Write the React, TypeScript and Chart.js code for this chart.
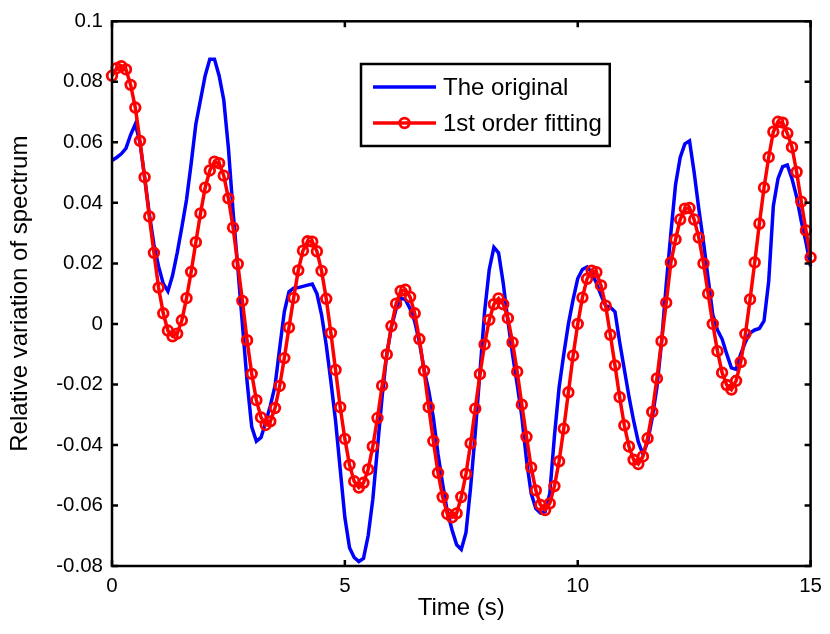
import React, { useEffect, useRef } from "react";
import { Chart, registerables } from "chart.js";

Chart.register(...registerables);

// ---- data ----
const TIME_START = 0;
const TIME_STEP = 0.1;

const ORIGINAL = [
  0.0540, 0.0550, 0.0562, 0.0580, 0.0625, 0.0660, 0.0600, 0.0485, 0.0365, 0.0262,
  0.0190, 0.0133, 0.0108, 0.0160, 0.0235, 0.0320, 0.0410, 0.0530, 0.0660, 0.0740,
  0.0820, 0.0875, 0.0875, 0.0820, 0.0740, 0.0580, 0.0370, 0.0188, 0.0000, -0.0190,
  -0.0340, -0.0388, -0.0375, -0.0325, -0.0270, -0.0205, -0.0080, 0.0040, 0.0106, 0.0118,
  0.0120, 0.0124, 0.0128, 0.0132, 0.0100, 0.0030, -0.0070, -0.0190, -0.0320, -0.0480,
  -0.0640, -0.0740, -0.0772, -0.0785, -0.0775, -0.0700, -0.0580, -0.0410, -0.0240, -0.0100,
  -0.0010, 0.0050, 0.0085, 0.0080, 0.0050, 0.0008, -0.0060, -0.0150, -0.0220, -0.0310,
  -0.0430, -0.0530, -0.0620, -0.0680, -0.0730, -0.0745, -0.0690, -0.0540, -0.0360, -0.0160,
  0.0040, 0.0180, 0.0253, 0.0235, 0.0135, 0.0010, -0.0100, -0.0200, -0.0306, -0.0450,
  -0.0560, -0.0610, -0.0625, -0.0620, -0.0560, -0.0370, -0.0210, -0.0100, 0.0000, 0.0080,
  0.0150, 0.0180, 0.0188, 0.0170, 0.0135, 0.0095, 0.0060, 0.0055, 0.0040, -0.0060,
  -0.0150, -0.0240, -0.0320, -0.0390, -0.0430, -0.0390, -0.0310, -0.0210, -0.0060, 0.0130,
  0.0300, 0.0460, 0.0550, 0.0595, 0.0605, 0.0500, 0.0380, 0.0270, 0.0150, 0.0030,
  -0.0020, -0.0050, -0.0100, -0.0145, -0.0150, -0.0100, -0.0060, -0.0030, -0.0020, -0.0015,
  0.0010, 0.0140, 0.0390, 0.0480, 0.0520, 0.0525, 0.0480, 0.0420, 0.0340, 0.0270,
  0.0190,
];

const FIT = [
  0.0820, 0.0845, 0.0852, 0.0841, 0.0790, 0.0715, 0.0605, 0.0485, 0.0355, 0.0235,
  0.0120, 0.0035, -0.0022, -0.0041, -0.0032, 0.0012, 0.0085, 0.0172, 0.0270, 0.0365,
  0.0450, 0.0507, 0.0536, 0.0531, 0.0490, 0.0415, 0.0318, 0.0198, 0.0076, -0.0054,
  -0.0165, -0.0252, -0.0309, -0.0334, -0.0322, -0.0278, -0.0205, -0.0113, -0.0012, 0.0086,
  0.0177, 0.0242, 0.0273, 0.0272, 0.0240, 0.0175, 0.0083, -0.0030, -0.0152, -0.0275,
  -0.0380, -0.0466, -0.0520, -0.0541, -0.0525, -0.0481, -0.0405, -0.0311, -0.0204, -0.0101,
  -0.0007, 0.0067, 0.0109, 0.0113, 0.0089, 0.0035, -0.0050, -0.0155, -0.0275, -0.0387,
  -0.0492, -0.0572, -0.0628, -0.0639, -0.0626, -0.0572, -0.0496, -0.0395, -0.0280, -0.0166,
  -0.0068, 0.0013, 0.0065, 0.0084, 0.0065, 0.0019, -0.0061, -0.0158, -0.0267, -0.0373,
  -0.0474, -0.0550, -0.0598, -0.0615, -0.0593, -0.0536, -0.0454, -0.0346, -0.0226, -0.0105,
  0.0000, 0.0087, 0.0149, 0.0176, 0.0171, 0.0127, 0.0060, -0.0036, -0.0137, -0.0242,
  -0.0335, -0.0405, -0.0449, -0.0463, -0.0438, -0.0378, -0.0291, -0.0180, -0.0057, 0.0070,
  0.0203, 0.0279, 0.0345, 0.0381, 0.0383, 0.0345, 0.0285, 0.0200, 0.0100, 0.0000,
  -0.0090, -0.0161, -0.0202, -0.0217, -0.0188, -0.0126, -0.0033, 0.0081, 0.0203, 0.0331,
  0.0450, 0.0551, 0.0635, 0.0668, 0.0665, 0.0630, 0.0584, 0.0502, 0.0404, 0.0309,
  0.0220,
];

const X_TICKS = [0, 5, 10, 15];
const Y_TICKS = [-0.08, -0.06, -0.04, -0.02, 0, 0.02, 0.04, 0.06, 0.08, 0.1];
const SERIES_NAMES = ["The original", "1st order fitting"];
const X_LABEL = "Time (s)";
const Y_LABEL = "Relative variation of spectrum";

// ---- styles ----
const FONT = "'Liberation Sans', Arial, Helvetica, sans-serif";
const BLUE = "#0000ff";
const RED = "#ff0000";

const TIME = ORIGINAL.map((_, i) => +(TIME_START + i * TIME_STEP).toFixed(3));

const framePlugin = {
  id: "matlabFrame",
  afterDraw(chart: any) {
    const { ctx, chartArea: a, scales } = chart;
    ctx.save();
    ctx.strokeStyle = "#000";
    ctx.lineWidth = 2.5;
    ctx.strokeRect(a.left, a.top, a.right - a.left, a.bottom - a.top);
    const L = 6;
    ctx.beginPath();
    for (const v of Y_TICKS) {
      const y = scales.y.getPixelForValue(v);
      ctx.moveTo(a.left, y);
      ctx.lineTo(a.left + L, y);
      ctx.moveTo(a.right, y);
      ctx.lineTo(a.right - L, y);
    }
    for (const v of X_TICKS) {
      const x = scales.x.getPixelForValue(v);
      ctx.moveTo(x, a.bottom);
      ctx.lineTo(x, a.bottom - L);
      ctx.moveTo(x, a.top);
      ctx.lineTo(x, a.top + L);
    }
    ctx.stroke();

    // legend
    const ds = chart.data.datasets;
    ctx.font = `24px ${FONT}`;
    const left = 361;
    const top = 64;
    const rowH = 36;
    const sampleL = left + 12;
    const sampleR = left + 75;
    const textX = left + 82;
    let maxW = 0;
    for (const d of ds) maxW = Math.max(maxW, ctx.measureText(d.label).width);
    const w = textX + maxW + 8 - left;
    const h = 82;
    ctx.fillStyle = "#fff";
    ctx.fillRect(left, top, w, h);
    ctx.lineWidth = 2.5;
    ctx.strokeStyle = "#000";
    ctx.strokeRect(left, top, w, h);
    ds.forEach((d: any, i: number) => {
      const cy = top + 23 + i * rowH;
      ctx.strokeStyle = d.borderColor;
      ctx.lineWidth = d.borderWidth;
      ctx.beginPath();
      ctx.moveTo(sampleL, cy);
      ctx.lineTo(sampleR, cy);
      ctx.stroke();
      if (d.pointRadius > 0) {
        ctx.lineWidth = d.pointBorderWidth;
        ctx.beginPath();
        ctx.arc((sampleL + sampleR) / 2, cy, d.pointRadius, 0, Math.PI * 2);
        ctx.stroke();
      }
      ctx.fillStyle = "#000";
      ctx.textBaseline = "middle";
      ctx.textAlign = "left";
      ctx.fillText(d.label, textX, cy + 1);
    });
    ctx.restore();
  },
};

export default function App() {
  const ref = useRef<HTMLCanvasElement>(null);

  useEffect(() => {
    if (!ref.current) return;
    const chart = new Chart(ref.current, {
      type: "line",
      data: {
        datasets: [
          {
            label: SERIES_NAMES[0],
            data: TIME.map((t, i) => ({ x: t, y: ORIGINAL[i] })),
            borderColor: BLUE,
            backgroundColor: BLUE,
            borderWidth: 3.5,
            pointRadius: 0,
            pointBorderWidth: 0,
            tension: 0,
            clip: false as any,
            order: 2,
          },
          {
            label: SERIES_NAMES[1],
            data: TIME.map((t, i) => ({ x: t, y: FIT[i] })),
            borderColor: RED,
            backgroundColor: "rgba(0,0,0,0)",
            borderWidth: 3.5,
            pointRadius: 4.8,
            pointBorderWidth: 2.8,
            pointBorderColor: RED,
            pointBackgroundColor: "rgba(0,0,0,0)",
            tension: 0,
            clip: false as any,
            order: 1,
          },
        ],
      },
      options: {
        animation: false,
        responsive: false,
        devicePixelRatio: 1,
        events: [],
        layout: { padding: { top: 14, right: 16, left: 0, bottom: 0 } },
        plugins: {
          legend: { display: false },
          tooltip: { enabled: false },
        },
        scales: {
          x: {
            type: "linear",
            min: 0,
            max: 15,
            afterBuildTicks: (s: any) => {
              s.ticks = X_TICKS.map((v) => ({ value: v }));
            },
            afterFit: (s: any) => {
              s.height = 68;
            },
            grid: { display: false, drawTicks: false },
            border: { display: false },
            ticks: {
              color: "#000",
              padding: 8,
              maxRotation: 0,
              autoSkip: false,
              font: { family: FONT, size: 20.5 },
              callback: (v: any) => String(v),
            },
            title: {
              display: true,
              text: X_LABEL,
              color: "#000",
              font: { family: FONT, size: 24 },
              padding: { top: 0, bottom: 11 },
            },
          },
          y: {
            type: "linear",
            min: -0.08,
            max: 0.1,
            afterBuildTicks: (s: any) => {
              s.ticks = Y_TICKS.map((v) => ({ value: v }));
            },
            afterFit: (s: any) => {
              s.width = 112;
            },
            grid: { display: false, drawTicks: false },
            border: { display: false },
            ticks: {
              color: "#000",
              padding: 9,
              autoSkip: false,
              font: { family: FONT, size: 20.5 },
              callback: (v: any) => String(Math.round(Number(v) * 100) / 100),
            },
            title: {
              display: true,
              text: Y_LABEL,
              color: "#000",
              font: { family: FONT, size: 24 },
              padding: { top: 6, bottom: 0 },
            },
          },
        },
      },
      plugins: [framePlugin],
    });
    return () => chart.destroy();
  }, []);

  return (
    <div style={{ position: "absolute", left: 0, top: 0, width: 830, height: 634, background: "#fff" }}>
      <canvas ref={ref} width={830} height={634} style={{ display: "block", width: 830, height: 634 }} />
    </div>
  );
}
